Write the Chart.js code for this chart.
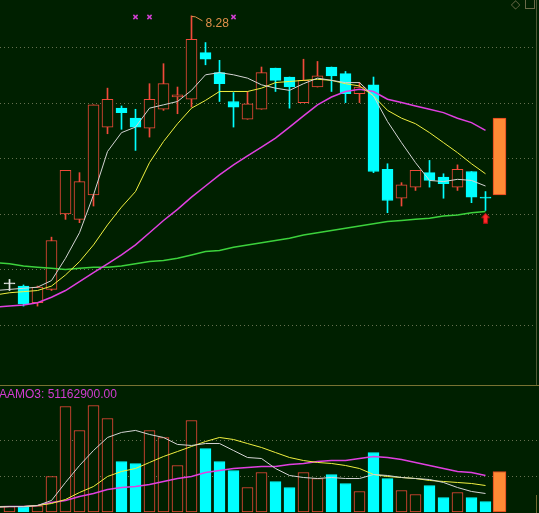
<!DOCTYPE html>
<html lang="zh-CN">
<head>
<meta charset="utf-8">
<title>K线</title>
<script src="https://cdn.jsdelivr.net/npm/chart.js@4.4.1/dist/chart.umd.min.js"></script>
<style>
  html, body { margin: 0; padding: 0; background: #002000; overflow: hidden; }
  #wrap { position: relative; width: 539px; height: 513px; background: #002000; }
  canvas { position: absolute; left: 0; display: block; }
  #mainChart { top: 0; }
  #volChart { top: 386px; }
  #sep { position: absolute; left: 0; top: 385px; width: 539px; height: 1px; background: #787232; }
  #edgeTop { position: absolute; left: 536px; top: 0; width: 1px; height: 385px; background: #4e5a36; }
  #edgeBot { position: absolute; left: 536px; top: 495px; width: 1px; height: 18px; background: #6e6a30; }
  #volLabel { position: absolute; left: -1px; top: 387px; font: 12px "Liberation Sans", Arial, sans-serif; line-height: 14px; color: #d23cd2; white-space: nowrap; }
  #iconDiamond { position: absolute; left: 511px; top: -3px; font: 12px "DejaVu Sans", sans-serif; color: #6a6a48; }
  #iconBox { position: absolute; left: 525px; top: -1px; width: 8px; height: 8px; border: 1px solid #6a6a48; }
</style>
</head>
<body>
<div id="wrap">
  <canvas id="mainChart" width="539" height="385"></canvas>
  <div id="sep"></div>
  <canvas id="volChart" width="539" height="127"></canvas>
  <div id="edgeTop"></div>
  <div id="edgeBot"></div>
  <div id="volLabel">AAMO3: 51162900.00</div>
  <div id="iconDiamond">◇</div>
  <div id="iconBox"></div>
</div>
<script>
// 日K线
const opens  = [5.87, 5.85, 5.70, 5.82, 6.50, 6.45, 6.67, 7.28, 7.45, 7.36, 7.27, 7.44, 7.55, 7.53, 7.95, 7.77, 7.51, 7.35, 7.44, 7.81, 7.73, 7.50, 7.64, 7.82, 7.76, 7.58, 7.66, 6.90, 6.64, 6.74, 6.87, 6.83, 6.74, 6.88, 6.65];
const highs  = [5.91, 5.86, 5.85, 6.29, 6.89, 6.87, 7.48, 7.63, 7.47, 7.44, 7.67, 7.85, 7.64, 8.28, 8.04, 7.88, 7.59, 7.60, 7.82, 7.81, 7.73, 7.89, 7.87, 7.82, 7.78, 7.68, 7.73, 6.95, 6.78, 6.89, 6.98, 6.86, 6.94, 6.88, 6.70];
const lows   = [5.81, 5.67, 5.67, 5.81, 6.45, 6.42, 6.57, 7.22, 7.26, 7.07, 7.19, 7.43, 7.40, 7.46, 7.84, 7.51, 7.28, 7.35, 7.44, 7.60, 7.45, 7.50, 7.64, 7.60, 7.50, 7.50, 6.87, 6.51, 6.57, 6.71, 6.74, 6.64, 6.71, 6.60, 6.53];
const closes = [5.87, 5.69, 5.84, 6.26, 6.89, 6.79, 7.48, 7.53, 7.41, 7.28, 7.53, 7.67, 7.57, 8.07, 7.89, 7.67, 7.46, 7.49, 7.77, 7.70, 7.64, 7.70, 7.74, 7.74, 7.58, 7.64, 6.88, 6.62, 6.76, 6.89, 6.80, 6.77, 6.90, 6.65, 6.64];

// 成交额 (百万元)
const volumes = [7.6, 7.6, 8.6, 49.3, 146.5, 113.2, 147.9, 129.9, 70.1, 67.4, 113.2, 103.5, 64.6, 127.1, 88.2, 70.1, 57.6, 34.0, 54.9, 42.4, 34.0, 54.9, 46.5, 52.1, 39.6, 28.5, 82.6, 46.5, 29.9, 24.3, 36.8, 20.1, 27.1, 20.1, 14.6];

// 均线: 第一个值是左边缘外的前一天
const ma5  = [5.81, 5.82, 5.83, 5.84, 5.90, 6.10, 6.33, 6.67, 7.06, 7.23, 7.28, 7.45, 7.48, 7.51, 7.61, 7.75, 7.77, 7.75, 7.72, 7.66, 7.63, 7.61, 7.67, 7.72, 7.70, 7.68, 7.68, 7.56, 7.33, 7.14, 6.96, 6.80, 6.79, 6.81, 6.80, 6.75];
const ma10 = [5.77, 5.79, 5.80, 5.81, 5.85, 5.95, 6.07, 6.22, 6.40, 6.56, 6.70, 6.96, 7.15, 7.31, 7.45, 7.52, 7.60, 7.60, 7.60, 7.63, 7.68, 7.69, 7.70, 7.71, 7.70, 7.67, 7.65, 7.56, 7.43, 7.36, 7.31, 7.23, 7.14, 7.05, 6.95, 6.86];
const ma20 = [5.66, 5.67, 5.68, 5.70, 5.75, 5.81, 5.89, 5.97, 6.05, 6.13, 6.22, 6.33, 6.44, 6.54, 6.65, 6.75, 6.85, 6.94, 7.02, 7.10, 7.18, 7.28, 7.38, 7.48, 7.55, 7.60, 7.62, 7.60, 7.53, 7.50, 7.47, 7.44, 7.41, 7.36, 7.32, 7.25];
const ma60 = [6.06, 6.05, 6.03, 6.02, 6.01, 6.00, 6.01, 6.02, 6.02, 6.03, 6.05, 6.07, 6.08, 6.10, 6.13, 6.16, 6.17, 6.20, 6.22, 6.24, 6.26, 6.28, 6.31, 6.33, 6.35, 6.37, 6.39, 6.41, 6.43, 6.44, 6.45, 6.46, 6.48, 6.49, 6.51, 6.52];

const volMa5  = [6.9, 7.6, 7.6, 9.0, 16.0, 41.0, 64.6, 85.4, 103.5, 110.5, 113.3, 107.7, 103.5, 93.8, 92.4, 95.1, 95.1, 85.4, 75.7, 74.3, 60.4, 50.7, 47.9, 46.5, 47.9, 46.5, 46.5, 52.1, 50.7, 47.9, 46.5, 45.1, 41.0, 34.0, 28.5, 25.7];
const volMa10 = [6.9, 7.6, 7.6, 9.0, 11.8, 17.4, 27.1, 35.4, 49.3, 56.3, 60.4, 68.8, 77.1, 84.0, 91.0, 97.9, 103.5, 100.7, 95.1, 89.6, 82.6, 75.7, 71.5, 68.8, 67.4, 64.6, 60.4, 52.1, 49.3, 47.9, 46.5, 43.8, 42.4, 41.0, 39.6, 36.8];
const volMa20 = [6.9, 7.6, 7.6, 9.0, 13.2, 16.0, 21.5, 25.7, 31.3, 34.0, 35.4, 38.2, 42.4, 46.5, 49.3, 54.9, 57.6, 60.4, 61.8, 63.2, 63.2, 66.0, 67.4, 70.1, 71.5, 71.5, 74.3, 77.1, 75.7, 72.9, 68.8, 64.6, 60.4, 56.3, 54.9, 50.7];

const priceTicks = [5.5, 6.0, 6.5, 7.0, 7.5, 8.0];
const volTicks = [50, 100];

const signalDays = [9, 10, 16];   // 顶部的 × 标记
const signalLevel = 8.27;
const buyDay = 34;                // 红色箭头
const buyLevel = 6.46;
const extraBar = [6.67, 7.36];    // 右侧橙色柱
const extraVol = 56.3;
const highDay = 13;
const highPrice = 8.28;

// 颜色
const BG = '#002000';
const RED = '#f04a3a';
const CYAN = '#00ffff';
const WHITE = '#e8e8e8';
const GRID = '#667050';
const ORANGE = '#ff8a35';

const X_MIN = -0.6786;
const X_MAX = 37.8214;

const days = opens.map((_, i) => i);
const candleColor = i => closes[i] > opens[i] ? RED : (closes[i] < opens[i] ? CYAN : WHITE);
const isUp = i => closes[i] >= opens[i];
const maPoints = arr => arr.map((v, i) => ({ x: i - 1, y: v }));

// 虚线网格, 通过 y 轴定位
const gridPlugin = {
    id: 'dottedGrid',
    beforeDatasetsDraw(chart, args, opts) {
        const { ctx, chartArea, scales } = chart;
        ctx.save();
        ctx.strokeStyle = GRID;
        ctx.lineWidth = 1;
        ctx.setLineDash([1, 3]);
        (opts.values || []).forEach(v => {
            const py = Math.round(scales.y.getPixelForValue(v)) + 0.5;
            ctx.beginPath();
            ctx.moveTo(chartArea.left, py);
            ctx.lineTo(chartArea.right, py);
            ctx.stroke();
        });
        ctx.restore();
    }
};

// 最高价标注
const highPlugin = {
    id: 'highMark',
    afterDatasetsDraw(chart) {
        const { ctx, scales } = chart;
        const x0 = scales.x.getPixelForValue(highDay);
        const y0 = scales.y.getPixelForValue(highPrice);
        ctx.save();
        ctx.strokeStyle = '#e0904a';
        ctx.lineWidth = 1;
        ctx.beginPath();
        ctx.moveTo(x0, y0 + 0.5);
        ctx.lineTo(x0 + 4, y0 + 1);
        ctx.lineTo(x0 + 11, y0 + 5);
        ctx.stroke();
        ctx.fillStyle = '#e0904a';
        ctx.font = '12px "Liberation Sans", Arial, sans-serif';
        ctx.textBaseline = 'alphabetic';
        ctx.fillText(highPrice.toFixed(2), x0 + 14, y0 + 11.5);
        ctx.restore();
    }
};

function makeArrow() {
    const c = document.createElement('canvas');
    c.width = 9;
    c.height = 11;
    const g = c.getContext('2d');
    g.fillStyle = '#ff2a2a';
    g.strokeStyle = '#a81010';
    g.lineWidth = 1;
    g.beginPath();
    g.moveTo(4.5, 0.5);
    g.lineTo(8.5, 5);
    g.lineTo(6.5, 5);
    g.lineTo(6.5, 10.5);
    g.lineTo(2.5, 10.5);
    g.lineTo(2.5, 5);
    g.lineTo(0.5, 5);
    g.closePath();
    g.fill();
    g.stroke();
    return c;
}

const lineBase = { type: 'line', pointRadius: 0, tension: 0, fill: false, order: 1 };
const commonOptions = (yMin, yMax, ticks) => ({
    responsive: false,
    animation: false,
    events: [],
    layout: { autoPadding: false, padding: 0 },
    plugins: {
        legend: { display: false },
        tooltip: { enabled: false },
        dottedGrid: { values: ticks }
    },
    scales: {
        x: { type: 'linear', display: false, min: X_MIN, max: X_MAX, offset: false },
        y: { type: 'linear', display: false, min: yMin, max: yMax }
    }
});

new Chart(document.getElementById('mainChart'), {
    type: 'bar',
    data: {
        datasets: [
            {
                label: 'wick',
                data: days.map(i => ({ x: i, y: [lows[i], highs[i]] })),
                backgroundColor: days.map(candleColor),
                borderWidth: 0,
                barThickness: 1,
                grouped: false,
                order: 3
            },
            {
                label: 'body',
                data: days.map(i => ({ x: i, y: [opens[i], closes[i]] })),
                backgroundColor: days.map(i => closes[i] > opens[i] ? BG : candleColor(i)),
                borderColor: days.map(candleColor),
                borderWidth: 1,
                borderSkipped: false,
                barThickness: 11,
                minBarLength: 1,
                grouped: false,
                order: 2
            },
            {
                label: 'extra',
                data: [{ x: opens.length, y: extraBar }],
                backgroundColor: ORANGE,
                borderColor: '#e0401e',
                borderWidth: 1,
                borderSkipped: false,
                barThickness: 13,
                grouped: false,
                order: 2
            },
            { ...lineBase, label: 'MA5', data: maPoints(ma5), borderColor: '#d4d4d4', borderWidth: 1 },
            { ...lineBase, label: 'MA10', data: maPoints(ma10), borderColor: '#f0f040', borderWidth: 1 },
            { ...lineBase, label: 'MA20', data: maPoints(ma20), borderColor: '#e040e0', borderWidth: 1.5 },
            { ...lineBase, label: 'MA60', data: maPoints(ma60), borderColor: '#3cd23c', borderWidth: 1.5 },
            {
                type: 'scatter',
                label: 'signal',
                data: signalDays.map(d => ({ x: d, y: signalLevel })),
                pointStyle: 'crossRot',
                pointRadius: 3,
                borderColor: '#d040d0',
                borderWidth: 1.5,
                order: 0
            },
            {
                type: 'scatter',
                label: 'buy',
                data: [{ x: buyDay, y: buyLevel }],
                pointStyle: makeArrow(),
                pointRadius: 5,
                order: 0
            }
        ]
    },
    options: commonOptions(4.9604, 8.4227, priceTicks),
    plugins: [gridPlugin, highPlugin]
});

new Chart(document.getElementById('volChart'), {
    type: 'bar',
    data: {
        datasets: [
            {
                label: 'amount',
                data: days.map(i => ({ x: i, y: volumes[i] })),
                backgroundColor: days.map(i => isUp(i) ? BG : CYAN),
                borderColor: days.map(i => isUp(i) ? RED : CYAN),
                borderWidth: 1,
                borderSkipped: false,
                barThickness: 11,
                grouped: false,
                order: 2
            },
            {
                label: 'extra',
                data: [{ x: opens.length, y: extraVol }],
                backgroundColor: ORANGE,
                borderColor: '#e0401e',
                borderWidth: 1,
                borderSkipped: false,
                barThickness: 13,
                grouped: false,
                order: 2
            },
            { ...lineBase, label: 'AMO1', data: maPoints(volMa5), borderColor: '#d4d4d4', borderWidth: 1 },
            { ...lineBase, label: 'AMO2', data: maPoints(volMa10), borderColor: '#f0f040', borderWidth: 1 },
            { ...lineBase, label: 'AMO3', data: maPoints(volMa20), borderColor: '#e040e0', borderWidth: 1.5 }
        ]
    },
    options: commonOptions(-1.39, 175.0, volTicks),
    plugins: [gridPlugin]
});
</script>
</body>
</html>
